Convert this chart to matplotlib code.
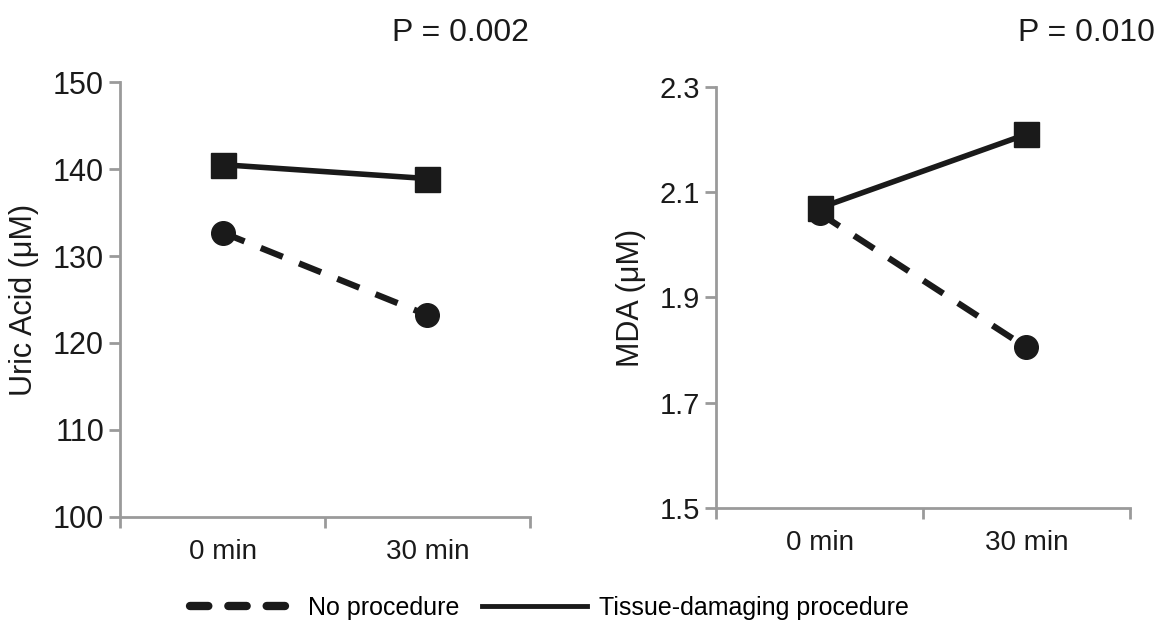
import matplotlib.pyplot as plt
from matplotlib.lines import Line2D

plt.rcParams["font.family"] = ["Liberation Sans", "DejaVu Sans"]

# 数据: 两个时间点, 两组
times = ["0 min", "30 min"]
uric_no_proc = [132.7, 123.2]
uric_tissue = [140.5, 138.9]
mda_no_proc = [2.06, 1.805]
mda_tissue = [2.07, 2.21]

AX_GRAY = "#9a9a9a"
INK = "#1a1a1a"


def style_axis(ax, ylim, yticks, ylabel, yfmt, ysize):
    ax.set_xlim(0, 2)
    ax.set_ylim(*ylim)
    ax.set_yticks(yticks)
    ax.set_yticklabels([yfmt.format(v) for v in yticks], fontsize=ysize,
                       color=INK)
    # 类别轴: 刻度线在分界处, 标签在中间
    ax.set_xticks([0, 1, 2])
    ax.set_xticklabels([])
    ax.set_xticks([0.5, 1.5], minor=True)
    ax.set_xticklabels(times, minor=True, fontsize=20, color=INK)
    ax.tick_params(axis="x", which="minor", length=0, pad=16)
    ax.tick_params(axis="both", which="major", color=AX_GRAY, width=2, length=8,
                   direction="out")
    for s in ["top", "right"]:
        ax.spines[s].set_visible(False)
    for s in ["left", "bottom"]:
        ax.spines[s].set_color(AX_GRAY)
        ax.spines[s].set_linewidth(2)
    ax.set_ylabel(ylabel, fontsize=22, color=INK, labelpad=10)


def draw(ax, no_proc, tissue):
    x = [0.5, 1.5]
    ax.plot(x, no_proc, color=INK, lw=4.5, ls=(0, (3.8, 2.8)),
            marker="o", markersize=17, clip_on=False)
    ax.plot(x, tissue, color=INK, lw=4, ls="-",
            marker="s", markersize=18, clip_on=False)


fig = plt.figure(figsize=(11.72, 6.3), dpi=100)
ax1 = fig.add_axes([0.1024, 0.1794, 0.3498, 0.6904])
ax2 = fig.add_axes([0.611, 0.1937, 0.353, 0.6683])

draw(ax1, uric_no_proc, uric_tissue)
style_axis(ax1, (100, 150), [100, 110, 120, 130, 140, 150],
           "Uric Acid (μM)", "{:.0f}", 22)
draw(ax2, mda_no_proc, mda_tissue)
style_axis(ax2, (1.5, 2.3), [1.5, 1.7, 1.9, 2.1, 2.3],
           "MDA (μM)", "{:.1f}", 21)

fig.text(0.451, 0.947, "P = 0.002", fontsize=23, ha="right", va="center",
         color=INK)
fig.text(0.985, 0.947, "P = 0.010", fontsize=23, ha="right", va="center",
         color=INK)

# 图例: 虚线样本只显示三段
handles = [
    Line2D([], [], color=INK, lw=6, ls=(0, (2.2, 2.4)), dash_capstyle="round"),
    Line2D([], [], color=INK, lw=3.5, ls="-"),
]
fig.legend(handles, ["No procedure", "Tissue-damaging procedure"],
           loc="center", bbox_to_anchor=(0.469, 0.035), ncol=2, frameon=False,
           fontsize=18, handlelength=4.2, handletextpad=0.5, columnspacing=0.9)

plt.savefig("out.png", dpi=100)
